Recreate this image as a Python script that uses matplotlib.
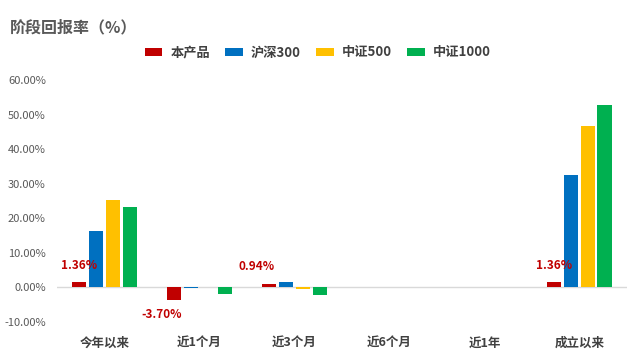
import matplotlib
matplotlib.use("Agg")
import matplotlib.pyplot as plt
from matplotlib.patches import Patch
import numpy as np

plt.rcParams['font.family'] = ['Noto Sans CJK SC', 'DejaVu Sans']

categories = ["今年以来", "近1个月", "近3个月", "近6个月", "近1年", "成立以来"]
series_names = ["本产品", "沪深300", "中证500", "中证1000"]
product = [1.36, -3.70, 0.94, np.nan, np.nan, 1.36]
hs300 = [16.2, -0.3, 1.6, np.nan, np.nan, 32.6]
zz500 = [25.2, 0.0, -0.4, np.nan, np.nan, 46.8]
zz1000 = [23.2, -1.9, -2.2, np.nan, np.nan, 52.8]
product_labels = ["1.36%", "-3.70%", "0.94%", None, None, "1.36%"]
yticks = [-10, 0, 10, 20, 30, 40, 50, 60]

colors = ["#C00000", "#0070C0", "#FFC000", "#00B050"]
series = [product, hs300, zz500, zz1000]

fig = plt.figure(figsize=(6.41, 3.61), dpi=100)
ax = fig.add_axes([0.0889, 0.1089, 0.8891, 0.6695])

x = np.arange(len(categories))
stride = 0.178
width = 0.153
for i, (vals, c) in enumerate(zip(series, colors)):
    ax.bar(x + (i - 1.5) * stride, vals, width=width, color=c, zorder=3)

ax.set_xlim(-0.5, len(categories) - 0.5)
ax.set_ylim(-10, 60)
ax.set_yticks(yticks)
ax.set_yticklabels([f"{v:.2f}%" for v in yticks], color="#595959", fontsize=8)
ax.set_xticks(x)
ax.set_xticklabels(categories, color="#404040", fontsize=9, fontweight="bold")
ax.tick_params(axis="both", length=0)
ax.tick_params(axis="x", pad=11)
ax.tick_params(axis="y", pad=8)
for s in ax.spines.values():
    s.set_visible(False)
ax.axhline(0, color="#D9D9D9", linewidth=1, zorder=2)

# data labels for product
label_dx = [0, -12, -13, 0, 0, 0]
for i, (v, lab) in enumerate(zip(product, product_labels)):
    if lab is None:
        continue
    xi = x[i] - 1.5 * stride
    dy = 17 if v >= 0 else -15
    ax.annotate(lab, (xi, v), xytext=(label_dx[i] * 0.72, dy * 0.72),
                textcoords="offset points", ha="center", va="center",
                color="#C00000", fontsize=8.5, fontweight="bold", zorder=4)

fig.text(0.016, 0.925, "阶段回报率（%）", fontsize=11.5, fontweight="bold",
         color="#595959", ha="left", va="center")

handles = [Patch(facecolor=c, edgecolor="none") for c in colors]
fig.legend(handles, series_names, loc="center left", bbox_to_anchor=(0.207, 0.855),
           ncol=4, frameon=False, handlelength=1.35, handleheight=0.55,
           handletextpad=0.6, columnspacing=1.15,
           prop={"size": 9.5, "weight": "bold", "family": ['Noto Sans CJK SC', 'DejaVu Sans']},
           labelcolor="#404040")

fig.savefig("out.png", dpi=100)
